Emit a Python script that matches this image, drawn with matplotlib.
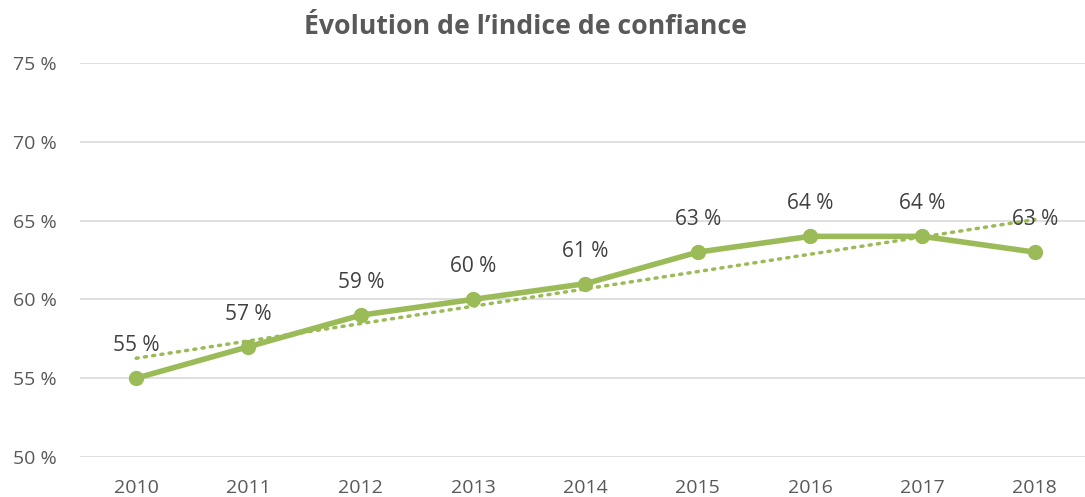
import matplotlib
matplotlib.use("Agg")
import matplotlib.pyplot as plt
import numpy as np

years = [2010, 2011, 2012, 2013, 2014, 2015, 2016, 2017, 2018]
values = [55, 57, 59, 60, 61, 63, 64, 64, 63]
title = "Évolution de l’indice de confiance"
yticks = [50, 55, 60, 65, 70, 75]

green = "#9BBB59"
txt = "#595959"
plt.rcParams['font.family'] = ['Open Sans', 'DejaVu Sans']

fig = plt.figure(figsize=(10.85, 4.97), dpi=100)
ax = fig.add_axes([80/1085, 1-457/497, 1011/1085, (457-63)/497])

x = np.array(years, dtype=float)
y = np.array(values, dtype=float)
ax.plot(x, y, color=green, lw=4, marker='o', ms=10, zorder=3, solid_capstyle='round')
coef = np.polyfit(x, y, 1)
ax.plot(x, np.polyval(coef, x), color=green, lw=2.5, ls=(0, (0.6, 1.8)), dash_capstyle='round', zorder=4)

for xi, yi in zip(years, values):
    ax.annotate(f"{yi} %", (xi, yi), xytext=(0, 23.5), textcoords='offset points',
                ha='center', va='center', fontsize=15, color="#404040", zorder=5)

ax.set_xlim(2009.5, 2018.5)
ax.set_ylim(50, 75)
ax.set_yticks(yticks)
ax.set_yticklabels([f"{v} %" for v in yticks])
ax.set_xticks(years)
ax.set_xticklabels([str(v) for v in years])
ax.grid(axis='y', color='#D9D9D9', lw=1.2)
ax.set_axisbelow(True)
for s in ax.spines.values():
    s.set_visible(False)
ax.tick_params(length=0, colors=txt, labelsize=14)
ax.tick_params(axis='y', pad=17)
ax.tick_params(axis='x', pad=16)

fig.text(525.5/1085, 1-27/497, title, ha='center', va='center', fontsize=19.2, fontweight='bold', color=txt)
fig.savefig("out.png", dpi=100)
